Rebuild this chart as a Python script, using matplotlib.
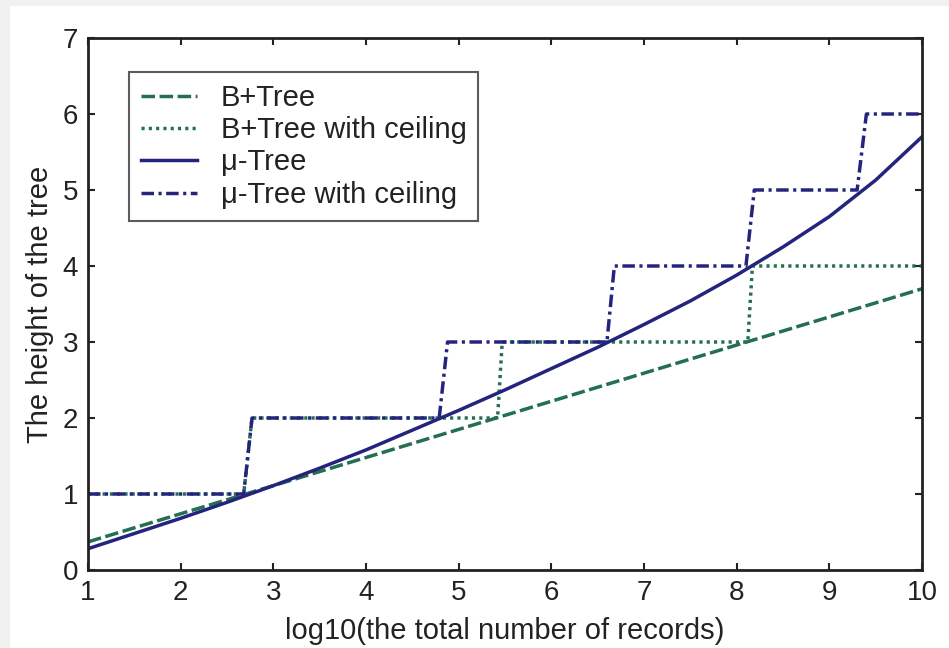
import matplotlib
matplotlib.use("Agg")
import matplotlib.pyplot as plt
from matplotlib.patches import Rectangle

plt.rcParams['font.family'] = ['Liberation Sans', 'DejaVu Sans']

# ---- data ----
btree_x = [1, 2, 3, 4, 5, 6, 7, 8, 9, 10]
btree_y = [0.37, 0.74, 1.11, 1.48, 1.85, 2.22, 2.59, 2.96, 3.33, 3.70]

btree_ceil_x = [1, 2.68, 2.77, 5.42, 5.47, 8.12, 8.17, 10]
btree_ceil_y = [1, 1, 2, 2, 3, 3, 4, 4]

mutree_x = [1, 1.5, 2, 2.5, 3, 3.5, 4, 4.5, 5, 5.5, 6, 6.5, 7, 7.5, 8, 8.5, 9, 9.5, 10]
mutree_y = [0.28, 0.48, 0.68, 0.89, 1.11, 1.34, 1.58, 1.84, 2.10, 2.37, 2.65,
            2.93, 3.23, 3.54, 3.88, 4.25, 4.65, 5.13, 5.70]

mutree_ceil_x = [1, 2.68, 2.77, 4.79, 4.88, 6.60, 6.68, 8.10, 8.19, 9.30, 9.40, 10]
mutree_ceil_y = [1, 1, 2, 2, 3, 3, 4, 4, 5, 5, 6, 6]

labels = ["B+Tree", "B+Tree with ceiling", "\u03bc-Tree", "\u03bc-Tree with ceiling"]
x_ticks = [1, 2, 3, 4, 5, 6, 7, 8, 9, 10]
y_ticks = [0, 1, 2, 3, 4, 5, 6, 7]

green = "#236f50"
blue = "#24247e"

fig = plt.figure(figsize=(9.49, 6.48), dpi=100, facecolor="#f1f1f1")
fig.patches.append(Rectangle((10 / 949, 0), 1, 1 - 6 / 648, transform=fig.transFigure,
                             facecolor="white", edgecolor="none", zorder=-10))
ax = fig.add_axes([88 / 949, 1 - 570 / 648, (922 - 88) / 949, (570 - 38) / 648])

lw = 2.5
ax.plot(btree_x, btree_y, color=green, lw=lw, dashes=(3.9, 1.3), label=labels[0])
ax.plot(btree_ceil_x, btree_ceil_y, color=green, lw=lw, dashes=(0.9, 1.2), label=labels[1])
ax.plot(mutree_x, mutree_y, color=blue, lw=lw, label=labels[2])
ax.plot(mutree_ceil_x, mutree_ceil_y, color=blue, lw=lw, dashes=(3.6, 1.3, 0.9, 1.3), label=labels[3])

ax.set_xlim(1, 10)
ax.set_ylim(0, 7)
ax.set_xticks(x_ticks)
ax.set_yticks(y_ticks)
ax.tick_params(direction="in", top=True, right=True, length=5, width=1.5,
               labelsize=20, colors="#222222", pad=7)
for s in ax.spines.values():
    s.set_linewidth(2)
    s.set_color("#222222")

ax.set_xlabel("log10(the total number of records)", fontsize=21, color="#222222", labelpad=8)
ax.set_ylabel("The height of the tree", fontsize=21, color="#222222", labelpad=6)

leg = ax.legend(loc="upper left", bbox_to_anchor=(0.049, 0.936), borderaxespad=0,
                fontsize=21, frameon=True, fancybox=False, handlelength=1.95,
                handletextpad=0.8, labelspacing=0.15, borderpad=0.4)
leg.get_frame().set_edgecolor("#333333")
leg.get_frame().set_linewidth(1.5)
for t in leg.get_texts():
    t.set_color("#222222")

fig.savefig("out.png", dpi=100, facecolor=fig.get_facecolor())
